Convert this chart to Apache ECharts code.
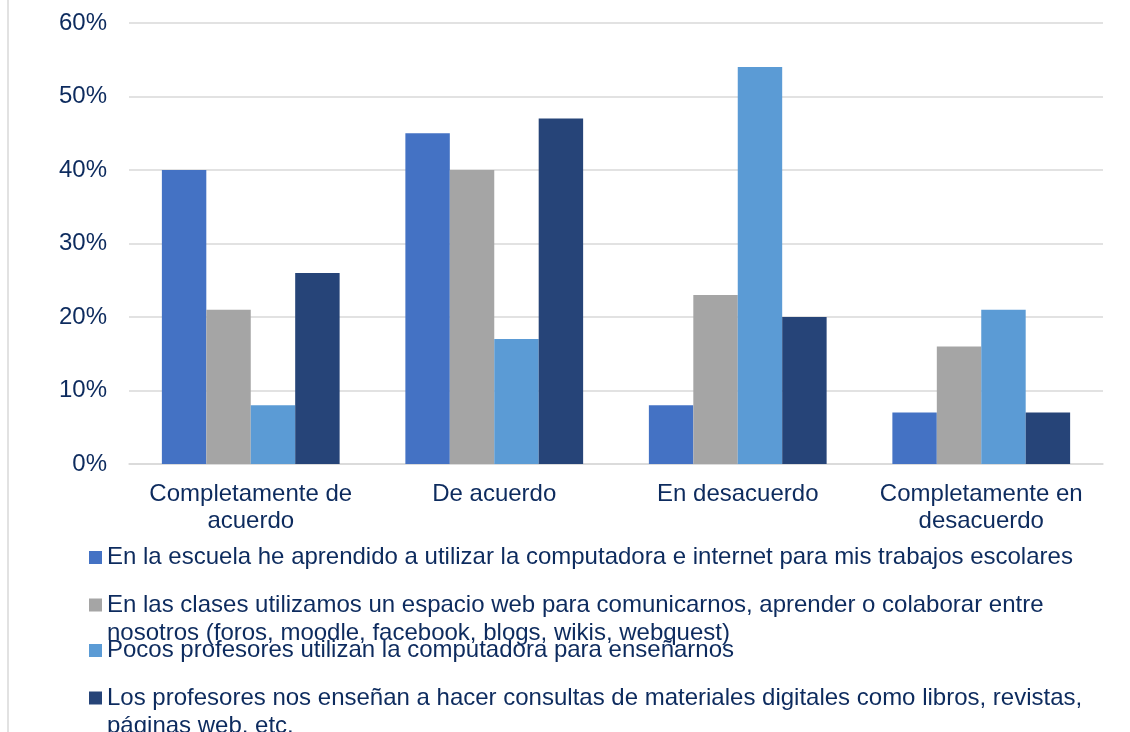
<!DOCTYPE html>
<html>
<head>
<meta charset="utf-8">
<style>
  html, body { margin: 0; padding: 0; background: #ffffff; }
  #chart { width: 1130px; height: 732px; }
</style>
<script src="https://cdn.jsdelivr.net/npm/echarts@6/dist/echarts.min.js"></script>
</head>
<body>
<div id="chart"></div>
<script>
// Response categories (x axis)
const categories = [
  'Completamente de\nacuerdo',
  'De acuerdo',
  'En desacuerdo',
  'Completamente en\ndesacuerdo'
];

// Statement texts (series names) and their wrapped legend lines
const seriesNames = [
  'En la escuela he aprendido a utilizar la computadora e internet para mis trabajos escolares',
  'En las clases utilizamos un espacio web para comunicarnos, aprender o colaborar entre nosotros (foros, moodle, facebook, blogs, wikis, webquest)',
  'Pocos profesores utilizan la computadora para enseñarnos',
  'Los profesores nos enseñan a hacer consultas de materiales digitales como libros, revistas, páginas web, etc.'
];
const legendLines = [
  ['En la escuela he aprendido a utilizar la computadora e internet para mis trabajos escolares'],
  ['En las clases utilizamos un espacio web para comunicarnos, aprender o colaborar entre',
   'nosotros (foros, moodle, facebook, blogs, wikis, webquest)'],
  ['Pocos profesores utilizan la computadora para enseñarnos'],
  ['Los profesores nos enseñan a hacer consultas de materiales digitales como libros, revistas,',
   'páginas web, etc.']
];

// Percentages per statement, one value per category
const escuelaValues    = [40, 45, 8, 7];
const clasesWebValues  = [21, 40, 23, 16];
const pocosProfValues  = [8, 17, 54, 21];
const consultasValues  = [26, 47, 20, 7];

// Y axis ticks
const yTicks = [0, 10, 20, 30, 40, 50, 60];

const seriesValues = [escuelaValues, clasesWebValues, pocosProfValues, consultasValues];
const colors = ['#4472C4', '#A5A5A5', '#5B9BD5', '#264478'];

const textColor = '#0D2B5E';
const fontFamily = '"Liberation Sans", Arial, sans-serif';
const lineH = 28;

// Icon centre positions of the stacked legend rows
const legendIconCenters = [557.5, 605, 650.5, 698];

const chart = echarts.init(document.getElementById('chart'), null, { renderer: 'canvas' });

// One legend per statement; wrapped entries get a leading blank line so the
// first text line stays level with the colour square.
const legends = seriesNames.map((name, i) => {
  const lines = legendLines[i];
  const multi = lines.length > 1;
  const label = multi ? '\n' + lines.join('\n') : lines[0];
  return {
    data: [name],
    left: 89,
    top: multi ? legendIconCenters[i] - lineH * 1.5 : legendIconCenters[i] - lineH / 2,
    padding: 0,
    orient: 'vertical',
    icon: 'rect',
    itemWidth: 13,
    itemHeight: 13,
    selectedMode: false,
    formatter: () => label,
    textStyle: {
      color: textColor,
      fontSize: 24,
      fontFamily: fontFamily,
      lineHeight: lineH
    }
  };
});

const option = {
  backgroundColor: '#ffffff',
  animation: false,
  color: colors,
  textStyle: { fontFamily: fontFamily },
  grid: {
    left: 129,
    right: 27,
    top: 23,
    bottom: 268,
    containLabel: false
  },
  legend: legends,
  xAxis: {
    type: 'category',
    data: categories,
    axisLine: { show: true, lineStyle: { color: '#D9D9D9', width: 1.5 } },
    axisTick: { show: false },
    axisLabel: {
      color: textColor,
      fontSize: 24,
      fontFamily: fontFamily,
      lineHeight: 27,
      margin: 17,
      interval: 0
    }
  },
  yAxis: {
    type: 'value',
    min: yTicks[0],
    max: yTicks[yTicks.length - 1],
    interval: 10,
    axisLine: { show: false },
    axisTick: { show: false },
    splitLine: { lineStyle: { color: '#D9D9D9', width: 1.5 } },
    axisLabel: {
      color: textColor,
      fontSize: 24,
      fontFamily: fontFamily,
      margin: 22,
      formatter: '{value}%'
    }
  },
  series: seriesNames.map((name, i) => ({
    name: name,
    type: 'bar',
    data: seriesValues[i],
    barGap: '0%',
    barCategoryGap: '27%',
    itemStyle: { color: colors[i] }
  })),
  graphic: [{
    type: 'line',
    shape: { x1: 8, y1: 0, x2: 8, y2: 732 },
    style: { stroke: '#D9D9D9', lineWidth: 1.5 },
    silent: true
  }]
};

chart.setOption(option);
</script>
</body>
</html>
